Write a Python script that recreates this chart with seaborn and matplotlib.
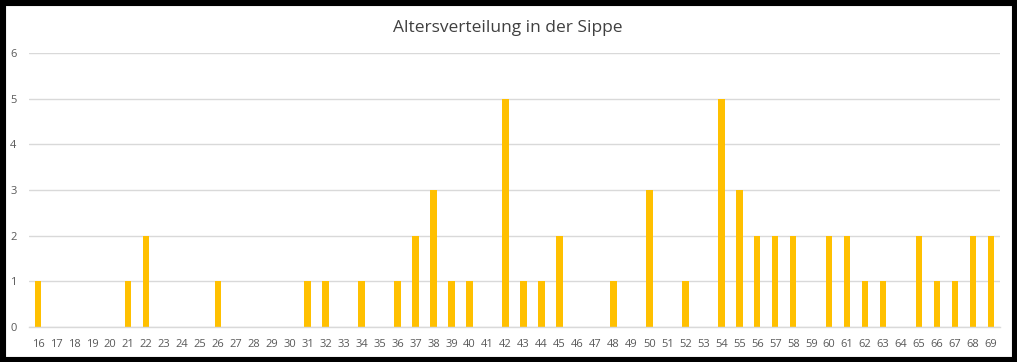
import numpy as np
import pandas as pd
import matplotlib
matplotlib.use("Agg")
import matplotlib.pyplot as plt
import seaborn as sns

# ---- data ----
ages = list(range(16, 70))
counts_by_age = {
    16: 1, 21: 1, 22: 2, 26: 1, 31: 1, 32: 1, 34: 1, 36: 1, 37: 2, 38: 3,
    39: 1, 40: 1, 42: 5, 43: 1, 44: 1, 45: 2, 48: 1, 50: 3, 52: 1, 54: 5,
    55: 3, 56: 2, 57: 2, 58: 2, 60: 2, 61: 2, 62: 1, 63: 1, 65: 2, 66: 1,
    67: 1, 68: 2, 69: 2,
}
counts = [counts_by_age.get(a, 0) for a in ages]
title = "Altersverteilung in der Sippe"

df = pd.DataFrame({"Alter": [str(a) for a in ages], "Anzahl": counts})

# ---- plot ----
sns.set_style("white")
plt.rcParams['font.family'] = ['Open Sans', 'DejaVu Sans']

fig = plt.figure(figsize=(10.17, 3.62), dpi=100)
ax = fig.add_axes([0.0285, 0.0967, 0.9548, 0.757])

sns.barplot(data=df, x="Alter", y="Anzahl", color="#FFC000", width=0.36,
            saturation=1, linewidth=0, ax=ax)

ax.set_ylim(0, 6)
ax.set_xlim(-0.5, len(ages) - 0.5)
ax.set_yticks(range(0, 7))
ax.yaxis.grid(True, color="#D9D9D9", linewidth=1)
ax.set_axisbelow(True)
ax.set_xlabel("")
ax.set_ylabel("")

for s in ["top", "right", "left"]:
    ax.spines[s].set_visible(False)
ax.spines["bottom"].set_color("#D9D9D9")
ax.spines["bottom"].set_linewidth(1)

ax.tick_params(axis="x", which="major", length=0, pad=9, labelsize=8,
               labelcolor="#595959")
ax.tick_params(axis="y", length=0, pad=9, labelsize=8, labelcolor="#595959")
ax.set_xticks(np.arange(-0.5, len(ages)), minor=True)
ax.tick_params(axis="x", which="minor", length=5, color="#D9D9D9", width=1)

fig.text(0.499, 0.922, title, ha="center", va="center", fontsize=12.5,
         color="#404040")

# black frame around the figure
frame = plt.Rectangle((0, 0), 1, 1, transform=fig.transFigure, fill=False,
                      edgecolor="black", linewidth=8, zorder=10)
fig.patches.append(frame)

fig.savefig("out.png", dpi=100)
